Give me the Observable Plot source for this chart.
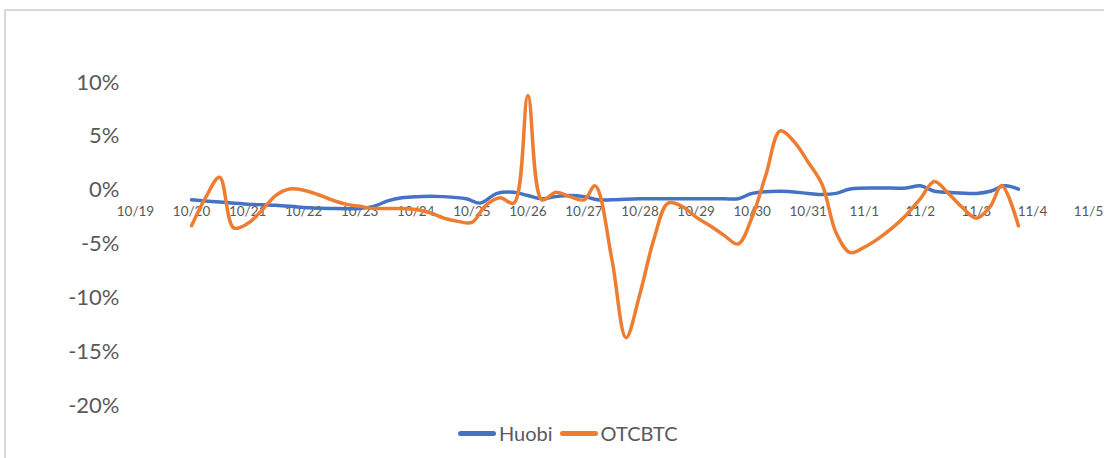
<!DOCTYPE html>
<html><head><meta charset="utf-8">
<script src="https://cdn.jsdelivr.net/npm/d3@7"></script>
<script src="https://cdn.jsdelivr.net/npm/@observablehq/plot@0.6"></script>
<style>
body{margin:0;background:#fff;}
#wrap{position:relative;width:1104px;height:458px;overflow:hidden;font-family:Lato,sans-serif;}
#frame{position:absolute;left:4px;top:9px;width:1200px;height:600px;border-top:2px solid #d9d9d9;border-left:2px solid #d9d9d9;}
#chart{position:absolute;left:0;top:0;}
#legend{position:absolute;left:458px;top:420px;height:26px;display:flex;align-items:center;color:#595959;font-size:20px;white-space:nowrap;}
.sw{display:inline-block;width:38px;height:5px;border-radius:2.5px;margin-right:3px;}
</style></head>
<body>
<div id="wrap">
  <div id="frame"></div>
  <div id="chart"></div>
  <div id="legend"><span class="sw" style="background:#4472C4"></span><span>Huobi</span><span class="sw" style="background:#ED7D31;margin-left:7px"></span><span>OTCBTC</span></div>
</div>
<script>
// Day labels (index 0 = 10/19)
const dayLabels = ["10/19","10/20","10/21","10/22","10/23","10/24","10/25","10/26","10/27","10/28","10/29","10/30","10/31","11/1","11/2","11/3","11/4","11/5"];
const yTicks = [10, 5, 0, -5, -10, -15, -20];

// Huobi: day offset from 10/19, premium %
const huobiDays = [1.0, 1.5, 2.0, 2.5, 3.0, 3.5, 4.0, 4.25, 4.5, 4.75, 5.0, 5.5, 5.9, 6.15, 6.45, 6.75, 7.0, 7.25, 7.5, 7.75, 8.0, 8.25, 8.5, 9.0, 9.5, 10.0, 10.5, 10.75, 11.0, 11.5, 12.0, 12.25, 12.5, 12.75, 13.25, 13.75, 14.0, 14.25, 14.5, 15.0, 15.25, 15.5, 15.75];
const huobiPct  = [-0.9, -1.1, -1.3, -1.4, -1.6, -1.7, -1.7, -1.5, -1.0, -0.7, -0.6, -0.6, -0.8, -1.2, -0.3, -0.2, -0.5, -0.8, -0.6, -0.5, -0.6, -0.9, -0.9, -0.8, -0.8, -0.8, -0.8, -0.8, -0.3, -0.1, -0.3, -0.4, -0.3, 0.1, 0.2, 0.2, 0.4, -0.1, -0.2, -0.3, -0.1, 0.4, 0.1];

// OTCBTC
const otcDays = [1.0, 1.25, 1.5, 1.75, 2.0, 2.25, 2.5, 2.75, 3.0, 3.25, 3.5, 3.75, 4.0, 4.25, 4.5, 4.75, 5.0, 5.25, 5.5, 5.75, 6.0, 6.25, 6.5, 6.75, 7.0, 7.25, 7.5, 7.75, 8.0, 8.2, 8.5, 8.75, 9.0, 9.25, 9.5, 9.75, 10.0, 10.25, 10.5, 10.75, 11.0, 11.25, 11.5, 11.75, 12.0, 12.25, 12.5, 12.75, 13.0, 13.25, 13.5, 13.75, 14.0, 14.25, 14.5, 14.75, 15.0, 15.25, 15.45, 15.75];
const otcPct  = [-3.3, -0.7, 1.2, -3.5, -3.1, -1.9, -0.5, 0.1, 0.0, -0.4, -0.9, -1.3, -1.5, -1.7, -1.7, -1.7, -1.8, -2.1, -2.6, -2.9, -3.0, -1.4, -0.7, -1.2, 8.8, -0.9, -0.2, -0.6, -0.9, 0.4, -6.5, -13.7, -9.6, -4.5, -1.2, -1.5, -2.5, -3.3, -4.2, -5.0, -2.5, 1.5, 5.5, 4.5, 2.6, 0.5, -4.0, -5.8, -5.3, -4.5, -3.5, -2.3, -0.8, 0.8, -0.3, -1.6, -2.6, -1.5, 0.4, -3.3];

const huobi = huobiDays.map((x, i) => ({x, y: huobiPct[i]}));
const otcbtc = otcDays.map((x, i) => ({x, y: otcPct[i]}));

const chart = Plot.plot({
  width: 1104, height: 415,
  marginLeft: 135, marginRight: 16, marginTop: 82, marginBottom: 10,
  x: {domain: [0, 17], axis: null},
  y: {domain: [-20, 10], axis: null},
  style: {fontFamily: "Lato, sans-serif", color: "#595959", background: "transparent", overflow: "visible"},
  marks: [
    Plot.axisY({ticks: yTicks, tickSize: 0, tickPadding: 16, fontSize: 22, tickFormat: d => d + "%", label: null, fill: "#595959"}),
    Plot.text(dayLabels, {x: (d, i) => i, y: () => 0, text: d => d, dy: 22, fontSize: 13.5, fill: "#595959"}),
    Plot.line(huobi, {x: "x", y: "y", stroke: "#4472C4", strokeWidth: 3.5, curve: "catmull-rom"}),
    Plot.line(otcbtc, {x: "x", y: "y", stroke: "#ED7D31", strokeWidth: 3.5, curve: "catmull-rom"})
  ]
});
document.getElementById("chart").appendChild(chart);
</script>
</body></html>
